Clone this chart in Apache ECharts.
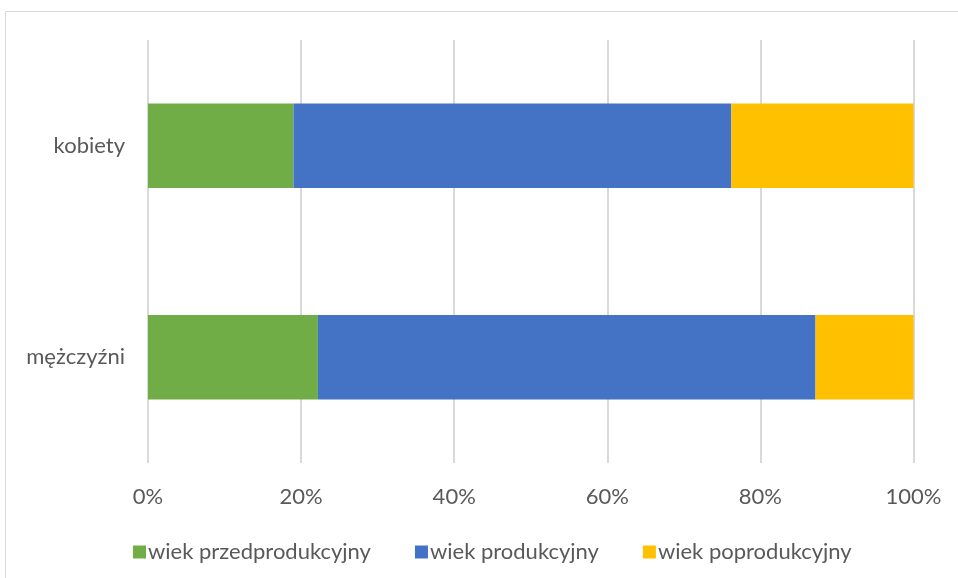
<!DOCTYPE html>
<html>
<head>
<meta charset="utf-8">
<script src="https://cdn.jsdelivr.net/npm/echarts@6/dist/echarts.min.js"></script>
<style>
html,body{margin:0;padding:0;background:#fff;}
#c{width:958px;height:578px;}
</style>
</head>
<body>
<div id="c"></div>
<script>
const categories = ['kobiety', 'mężczyźni'];
const seriesNames = ['wiek przedprodukcyjny', 'wiek produkcyjny', 'wiek poprodukcyjny'];
const przedprodukcyjny = [19.0, 22.2];
const produkcyjny = [57.2, 65.0];
const poprodukcyjny = [23.8, 12.8];
const tickValues = [0, 20, 40, 60, 80, 100];
const colors = ['#70AD47', '#4472C4', '#FFC000'];

const FONT = 'Lato';
const TXT = '#595959';

const chart = echarts.init(document.getElementById('c'), null, {renderer: 'canvas'});
const values = [przedprodukcyjny, produkcyjny, poprodukcyjny];
chart.setOption({
  animation: false,
  backgroundColor: '#fff',
  graphic: [{
    type: 'rect', silent: true, z: -1,
    shape: {x: 5.5, y: 11.5, width: 1000, height: 1000},
    style: {fill: 'none', stroke: '#d9d9d9', lineWidth: 1}
  }],
  grid: {left: 148, right: 44.5, top: 40, bottom: 115, containLabel: false},
  legend: {
    top: 536, left: 128,
    itemWidth: 13, itemHeight: 13, itemGap: 44,
    icon: 'rect',
    textStyle: {color: TXT, fontFamily: FONT, fontSize: 22, padding: [0, 0, 0, -3]},
    data: seriesNames
  },
  xAxis: {
    type: 'value', min: 0, max: 100, interval: 20,
    axisLine: {show: false}, axisTick: {show: false},
    splitLine: {show: true, lineStyle: {color: '#d9d9d9', width: 2}},
    axisLabel: {color: TXT, fontFamily: FONT, fontSize: 22, margin: 23,
      formatter: v => tickValues.includes(v) ? v + '%' : ''}
  },
  yAxis: {
    type: 'category', data: categories, inverse: true,
    axisLine: {show: false}, axisTick: {show: false},
    axisLabel: {color: TXT, fontFamily: FONT, fontSize: 22, margin: 23}
  },
  series: seriesNames.map((n, i) => ({
    name: n, type: 'bar', stack: 'total', data: values[i],
    barCategoryGap: '60%',
    itemStyle: {color: colors[i]}
  }))
});
</script>
</body>
</html>
